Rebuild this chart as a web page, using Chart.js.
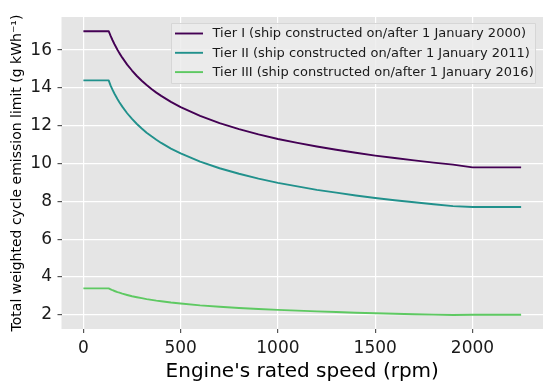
<!DOCTYPE html>
<html><head><meta charset="utf-8">
<script src="https://cdn.jsdelivr.net/npm/chart.js@4/dist/chart.umd.min.js"></script>
<style>html,body{margin:0;padding:0;background:#fff}#wrap{width:550px;height:388px}</style>
</head><body><div id="wrap"><canvas id="c" width="550" height="388"></canvas></div>
<script>
const speeds = [0, 130, 140, 150, 160, 175, 185, 200, 225, 250, 275, 300, 325, 350, 375, 400, 450, 500, 600, 700, 800, 900, 1000, 1100, 1200, 1300, 1400, 1500, 1600, 1700, 1800, 1900, 2000, 2250];
const tier1 = [17.0, 17.0, 16.75, 16.52, 16.31, 16.02, 15.84, 15.60, 15.23, 14.92, 14.63, 14.38, 14.15, 13.94, 13.75, 13.58, 13.26, 12.98, 12.52, 12.14, 11.82, 11.54, 11.30, 11.09, 10.90, 10.73, 10.57, 10.42, 10.29, 10.17, 10.05, 9.94, 9.8, 9.8];
const tier2 = [14.4, 14.4, 14.12, 13.90, 13.69, 13.41, 13.24, 13.01, 12.66, 12.36, 12.09, 11.85, 11.63, 11.44, 11.26, 11.09, 10.79, 10.54, 10.10, 9.75, 9.46, 9.20, 8.98, 8.79, 8.61, 8.46, 8.31, 8.18, 8.06, 7.95, 7.85, 7.75, 7.7, 7.7];
const tier3 = [3.4, 3.4, 3.35, 3.30, 3.26, 3.20, 3.17, 3.12, 3.05, 2.98, 2.93, 2.88, 2.83, 2.79, 2.75, 2.72, 2.65, 2.60, 2.50, 2.43, 2.36, 2.31, 2.26, 2.22, 2.18, 2.15, 2.11, 2.08, 2.06, 2.03, 2.01, 1.99, 2.0, 2.0];
const seriesLabels = ['Tier I (ship constructed on/after 1 January 2000)', 'Tier II (ship constructed on/after 1 January 2011)', 'Tier III (ship constructed on/after 1 January 2016)'];
const colors = ['#440154', '#21918c', '#5ec962'];
const xTicks = [0, 500, 1000, 1500, 2000];
const yTicks = [2, 4, 6, 8, 10, 12, 14, 16];
const FONT = "'DejaVu Sans', sans-serif";

const mk = (arr) => speeds.map((s, i) => ({x: s, y: arr[i]}));
const datasets = [tier1, tier2, tier3].map((arr, i) => ({
  label: seriesLabels[i], data: mk(arr), borderColor: colors[i], borderWidth: 1.9,
  pointRadius: 0, showLine: true, fill: false, tension: 0, borderJoinStyle: 'round'
}));

const bgPlugin = {
  id: 'bg',
  beforeDraw(chart) {
    const {ctx, chartArea: a} = chart;
    ctx.save(); ctx.fillStyle = '#e5e5e5';
    ctx.fillRect(a.left, a.top, a.right - a.left, a.bottom - a.top);
    ctx.restore();
  },
  afterDatasetsDraw(chart) {
    const ctx = chart.ctx;
    const bx = 171.5, by = 23.5, bw = 364, bh = 60;
    ctx.save();
    ctx.fillStyle = 'rgba(236,236,236,0.85)';
    ctx.strokeStyle = '#d6d6d6'; ctx.lineWidth = 1;
    ctx.beginPath(); ctx.rect(bx, by, bw, bh); ctx.fill(); ctx.stroke();
    ctx.font = '13px ' + FONT; ctx.textBaseline = 'middle'; ctx.fillStyle = '#1a1a1a';
    chart.data.datasets.forEach((d, i) => {
      const y = 33.5 + i * 19.3;
      ctx.strokeStyle = d.borderColor; ctx.lineWidth = 1.9;
      ctx.beginPath(); ctx.moveTo(175, y); ctx.lineTo(203, y); ctx.stroke();
      ctx.fillText(d.label, 212.5, y + 0.5);
    });
    ctx.restore();
  }
};

new Chart(document.getElementById('c'), {
  type: 'scatter',
  data: {datasets},
  options: {
    responsive: false, animation: false,
    layout: {padding: {top: 17, right: 7, left: 0, bottom: 0}},
    plugins: {legend: {display: false}, tooltip: {enabled: false}},
    scales: {
      x: {
        type: 'linear', min: -112.5, max: 2362.5,
        afterBuildTicks: (ax) => { ax.ticks = xTicks.map(v => ({value: v})); },
        afterFit: (ax) => { ax.height = 59; },
        grid: {color: '#ffffff', lineWidth: 1.2, tickColor: '#555555', tickLength: 4},
        border: {display: false},
        ticks: {color: '#1a1a1a', font: {family: FONT, size: 17}, padding: 5, maxRotation: 0, callback: (v) => String(v)},
        title: {display: true, text: "Engine's rated speed (rpm)", color: '#000', font: {family: FONT, size: 20}, padding: {top: 0, bottom: 4}}
      },
      y: {
        type: 'linear', min: 1.25, max: 17.75,
        afterBuildTicks: (ax) => { ax.ticks = yTicks.map(v => ({value: v})); },
        afterFit: (ax) => { ax.width = 61.5; },
        grid: {color: '#ffffff', lineWidth: 1.2, tickColor: '#555555', tickLength: 4},
        border: {display: false},
        ticks: {color: '#1a1a1a', font: {family: FONT, size: 17}, padding: 5.5, callback: (v) => String(v)},
        title: {display: true, text: 'Total weighted cycle emission limit (g kWh⁻¹)', color: '#000', font: {family: FONT, size: 14}, padding: {top: 9, bottom: 0}}
      }
    }
  },
  plugins: [bgPlugin]
});
</script></body></html>
